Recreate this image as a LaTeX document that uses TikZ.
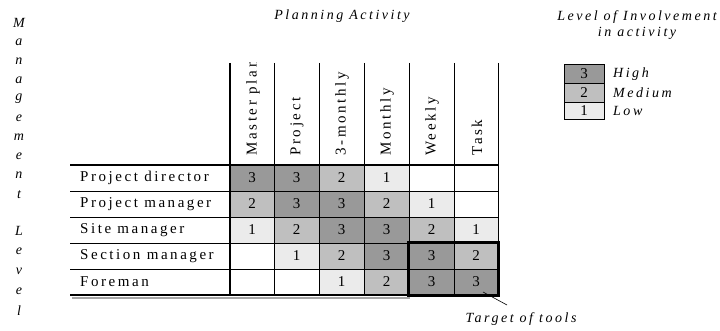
\documentclass[tikz,border=0pt]{standalone}
\usepackage{fontspec}
\setmainfont{Liberation Serif}
\newfontfamily\spaced[LetterSpace=17]{Liberation Serif}
\newfontfamily\spacedhead[LetterSpace=18]{Liberation Serif}
\newfontfamily\spacedit[LetterSpace=18]{Liberation Serif Italic}
\begin{document}
\begin{tikzpicture}[x=1pt,y=-1pt,
  cellbox/.style={minimum width=44pt,minimum height=25pt,inner sep=0pt,
    font=\fontsize{15}{15}\selectfont},
  lvthree/.style={cellbox,fill=black!40},
  lvtwo/.style={cellbox,fill=black!25},
  lvone/.style={cellbox,fill=black!8},
  lvnone/.style={cellbox},
  rowlabel/.style={anchor=west,inner sep=0pt,font=\spaced\fontsize{15}{15}\selectfont},
  colhead/.style={rotate=90,anchor=west,inner sep=0pt,font=\spacedhead\fontsize{15}{15}\selectfont},
  title/.style={inner sep=0pt,font=\spacedit\fontsize{14}{16}\selectfont,align=center},
  vletter/.style={inner sep=0pt,font=\itshape\fontsize{14}{14}\selectfont},
  thinline/.style={line width=0.8pt},
  thickline/.style={line width=2.2pt},
]
\useasboundingbox (0,0) rectangle (720,331);

% column borders and row borders
\def\colx{{230,274,319,364,409,454,498}}
\def\rowy{{165,191,217,243,269,295}}

% cells
\foreach \r/\vals in {1/{3,3,2,1,0,0},2/{2,3,3,2,1,0},3/{1,2,3,3,2,1},4/{0,1,2,3,3,2},5/{0,0,1,2,3,3}}{
  \foreach \v [count=\c] in \vals {
    \pgfmathsetmacro\xa{\colx[\c-1]}
    \pgfmathsetmacro\xb{\colx[\c]}
    \pgfmathsetmacro\ya{\rowy[\r-1]}
    \pgfmathsetmacro\yb{\rowy[\r]}
    \ifcase\v
      \node[lvnone,minimum width=\xb-\xa,minimum height=\yb-\ya] (c\r\c) at ({(\xa+\xb)/2},{(\ya+\yb)/2}) {};
    \or
      \node[lvone,minimum width=\xb-\xa,minimum height=\yb-\ya] (c\r\c) at ({(\xa+\xb)/2},{(\ya+\yb)/2}) {1};
    \or
      \node[lvtwo,minimum width=\xb-\xa,minimum height=\yb-\ya] (c\r\c) at ({(\xa+\xb)/2},{(\ya+\yb)/2}) {2};
    \or
      \node[lvthree,minimum width=\xb-\xa,minimum height=\yb-\ya] (c\r\c) at ({(\xa+\xb)/2},{(\ya+\yb)/2}) {3};
    \fi
  }
}

% row labels
\node[rowlabel] (r1) at (80,178) {Project director};
\node[rowlabel] (r2) at (80,204) {Project manager};
\node[rowlabel] (r3) at (80,230) {Site manager};
\node[rowlabel] (r4) at (80,256) {Section manager};
\node[rowlabel] (r5) at (80,282) {Foreman};

% column headings, clipped at the top of the header
\begin{scope}
  \clip (230,63) rectangle (498,165);
  \node[colhead] (h1) at (253,156) {Master plan};
  \node[colhead] (h2) at (297,156) {Project};
  \node[colhead] (h3) at (342,156) {3-monthly};
  \node[colhead] (h4) at (387,156) {Monthly};
  \node[colhead] (h5) at (432,156) {Weekly};
  \node[colhead] (h6) at (477,156) {Task};
\end{scope}

% grid lines
\foreach \y in {191,217,243,269} \draw[thinline] (70,\y) -- (498,\y);
\foreach \x in {274,319,364,409,454,498} \draw[thinline] (\x,63) -- (\x,295);
\draw[thickline] (70,165) -- (498,165);
\draw[line width=2pt,black!35] (72,297.5) -- (410,297.5);
\draw[thickline] (70,295) -- (409,295);
\draw[thickline] (230,63) -- (230,296);

% highlighted block
\draw[line width=3pt] (c45.north west) rectangle (c56.south east);

% axis titles
\node[title] (ptitle) at (342,16) {Planning Activity};
\node[title] (ltitle) at (637,25) {Level of Involvement\\in activity};

% vertical axis title
\foreach \ch/\yy [count=\i] in {M/23,a/42,n/61,a/80,g/99,e/118,m/137,e/156,n/175,t/195,L/231,e/251,v/271,e/291,l/311}{
  \node[vletter] (v\i) at (19,\yy) {\ch};
}

% legend
\node[lvthree,draw,thinline,minimum width=40pt,minimum height=19pt] (k3) at (584,73.5) {3};
\node[lvtwo,draw,thinline,minimum width=40pt,minimum height=19pt] (k2) at (584,92.5) {2};
\node[lvone,draw,thinline,minimum width=40pt,minimum height=17pt] (k1) at (584,110.5) {1};
\node[title,anchor=west] (kh) at (613,74) {High};
\node[title,anchor=west] (km) at (613,93) {Medium};
\node[title,anchor=west] (kl) at (613,111) {Low};

% pointer to the highlighted block
\coordinate (tip) at (483,292);
\node[title] (target) at (521,319) {Target of tools};
\draw[line width=0.6pt] (tip) -- (507,305);
\end{tikzpicture}
\end{document}
